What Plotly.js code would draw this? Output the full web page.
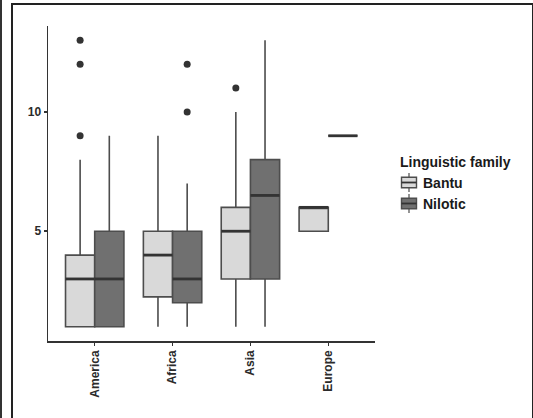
<!DOCTYPE html>
<html>
<head>
<meta charset="utf-8">
<script src="https://cdn.plot.ly/plotly-3.0.1.min.js"></script>
<style>
html,body{margin:0;padding:0;background:#fff;}
#wrap{position:relative;width:533px;height:418px;overflow:hidden;}
#chart{width:533px;height:418px;}
#frame{position:absolute;left:11px;top:3px;width:519px;height:430px;border-left:2px solid #222;border-top:2px solid #222;border-right:2px solid #222;pointer-events:none;}
#edge{position:absolute;left:0;top:0;width:2px;height:418px;background:#333;pointer-events:none;}
</style>
</head>
<body>
<div id="wrap"><div id="chart"></div><div id="frame"></div><div id="edge"></div></div>
<script>
// Data
var categories = ["America", "Africa", "Asia", "Europe"];
var families = ["Bantu", "Nilotic"];
var legendTitle = "Linguistic family";

var bantuLower  = [1, 1, 1, 5];
var bantuQ1     = [1, 2.25, 3, 5];
var bantuMedian = [3, 4, 5, 6];
var bantuQ3     = [4, 5, 6, 6];
var bantuUpper  = [8, 9, 10, 6];

var niloticLower  = [1, 1, 1, 9];
var niloticQ1     = [1, 2, 3, 9];
var niloticMedian = [3, 3, 6.5, 9];
var niloticQ3     = [5, 5, 8, 9];
var niloticUpper  = [9, 7, 13, 9];

var bantuOutlierCat = ["America", "America", "America", "Asia"];
var bantuOutlierVal = [9, 12, 13, 11];
var niloticOutlierCat = ["Africa", "Africa"];
var niloticOutlierVal = [10, 12];

var fillColors = ["#d9d9d9", "#707070"];
var outlineColor = "#4d4d4d";
var medianColor = "#333333";

// dodge
var boxW = 0.375;
var offsets = [-boxW / 2, boxW / 2];
function pos(cat, k) { return categories.indexOf(cat) + 1 + offsets[k]; }

var stats = [
  {lo: bantuLower, q1: bantuQ1, med: bantuMedian, q3: bantuQ3, hi: bantuUpper, oc: bantuOutlierCat, ov: bantuOutlierVal},
  {lo: niloticLower, q1: niloticQ1, med: niloticMedian, q3: niloticQ3, hi: niloticUpper, oc: niloticOutlierCat, ov: niloticOutlierVal}
];

var traces = [];
stats.forEach(function (s, k) {
  var xs = categories.map(function (c) { return pos(c, k); });
  traces.push({
    type: "box", name: families[k], x: xs,
    q1: s.q1, median: s.med, q3: s.q3, lowerfence: s.lo, upperfence: s.hi,
    width: boxW, whiskerwidth: 0, boxpoints: false,
    fillcolor: fillColors[k],
    line: {color: outlineColor, width: 1.6},
    hoverinfo: "skip", showlegend: false
  });
});
// thicker median lines
stats.forEach(function (s, k) {
  var mx = [], my = [];
  categories.forEach(function (c, i) {
    var p = pos(c, k);
    mx.push(p - boxW / 2, p + boxW / 2, null);
    my.push(s.med[i], s.med[i], null);
  });
  traces.push({type: "scatter", mode: "lines", x: mx, y: my, showlegend: false,
    line: {color: medianColor, width: 2.8}, hoverinfo: "skip"});
});
// outliers
stats.forEach(function (s, k) {
  traces.push({type: "scatter", mode: "markers",
    x: s.oc.map(function (c) { return pos(c, k); }), y: s.ov,
    showlegend: false, marker: {color: "#333333", size: 7}, hoverinfo: "skip"});
});

var fontFam = "Liberation Sans, Arial, sans-serif";
var tickFont = {family: fontFam, size: 12, color: "#2b2b2b", weight: "bold"};
var legFont = {family: fontFam, size: 14, color: "#1a1a1a", weight: "bold"};

// Manual legend (ggplot style key), anchored at the plot's top-right corner, pixel offsets
var shapes = [], annotations = [];
annotations.push({xref: "paper", yref: "paper", x: 1, y: 1, xshift: 23, yshift: -136,
  xanchor: "left", yanchor: "middle", showarrow: false, text: legendTitle, font: legFont});
families.forEach(function (f, k) {
  var cy = -156.5 - k * 21;     // key centre (px offset from top)
  var common = {xref: "paper", yref: "paper", xsizemode: "pixel", ysizemode: "pixel", xanchor: 1, yanchor: 1};
  shapes.push(Object.assign({type: "line", x0: 34, x1: 34, y0: cy + 9.5, y1: cy - 9.5,
    line: {color: outlineColor, width: 1.2}}, common));
  shapes.push(Object.assign({type: "rect", x0: 26.5, x1: 41.5, y0: cy + 5.3, y1: cy - 5.3,
    fillcolor: fillColors[k], line: {color: outlineColor, width: 1.4}}, common));
  shapes.push(Object.assign({type: "line", x0: 26.5, x1: 41.5, y0: cy, y1: cy,
    line: {color: medianColor, width: 1.8}}, common));
  annotations.push({xref: "paper", yref: "paper", x: 1, y: 1, xshift: 46, yshift: cy,
    xanchor: "left", yanchor: "middle", showarrow: false, text: f, font: legFont});
});

var layout = {
  width: 533, height: 418,
  margin: {l: 48, r: 158, t: 26, b: 77, pad: 0},
  paper_bgcolor: "#ffffff", plot_bgcolor: "#ffffff",
  boxmode: "overlay",
  showlegend: false,
  xaxis: {
    range: [0.4, 4.6], tickvals: [1, 2, 3, 4], ticktext: categories,
    tickangle: -90, tickfont: tickFont, showgrid: false, zeroline: false,
    showline: true, linecolor: "#333333", linewidth: 1.5,
    ticks: "outside", ticklen: 3, tickcolor: "#333333", tickwidth: 1.5
  },
  yaxis: {
    range: [0.4, 13.6], tickvals: [5, 10], ticktext: ["5", "10"],
    tickfont: tickFont, showgrid: false, zeroline: false,
    showline: true, linecolor: "#333333", linewidth: 1.5,
    ticks: "outside", ticklen: 3, tickcolor: "#333333", tickwidth: 1.5
  },
  shapes: shapes,
  annotations: annotations
};

Plotly.newPlot("chart", traces, layout, {staticPlot: true, displayModeBar: false});
</script>
</body>
</html>
